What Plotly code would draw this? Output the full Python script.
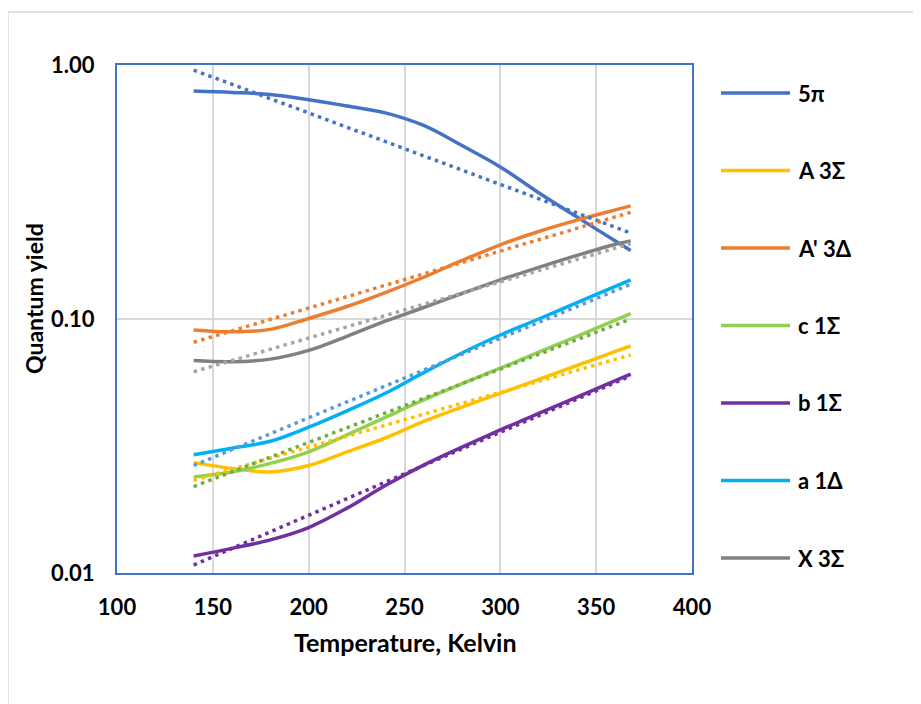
import plotly.graph_objects as go

# ---------------- data ----------------
temps = [140, 160, 180, 200, 220, 240, 260, 280, 300, 320, 340, 360, 368]

y_5pi   = [0.79, 0.78, 0.765, 0.73, 0.69, 0.648, 0.578, 0.482, 0.397, 0.314, 0.252, 0.203, 0.186]
y_A3S   = [0.0272, 0.0258, 0.025, 0.0265, 0.030, 0.034, 0.0395, 0.045, 0.051, 0.0578, 0.0656, 0.0745, 0.0783]
y_Ap3D  = [0.0905, 0.089, 0.091, 0.1005, 0.112, 0.127, 0.146, 0.170, 0.196, 0.221, 0.245, 0.269, 0.279]
y_c1S   = [0.0239, 0.025, 0.027, 0.030, 0.035, 0.041, 0.048, 0.0557, 0.064, 0.074, 0.0855, 0.099, 0.105]
y_b1S   = [0.01167, 0.0125, 0.0135, 0.0151, 0.018, 0.0221, 0.0266, 0.0313, 0.0366, 0.0425, 0.0493, 0.0572, 0.0607]
y_a1D   = [0.0292, 0.031, 0.033, 0.0375, 0.0435, 0.051, 0.0615, 0.0735, 0.0865, 0.100, 0.116, 0.1345, 0.1425]
y_X3S   = [0.0686, 0.0679, 0.0695, 0.0752, 0.0855, 0.098, 0.111, 0.126, 0.1425, 0.1596, 0.178, 0.197, 0.203]

# exponential trend lines (straight on log axis): value at first and last temperature
trend_temps = [140, 368]
t_5pi  = [0.955, 0.218]
t_A3S  = [0.0232, 0.0722]
t_Ap3D = [0.081, 0.263]
t_c1S  = [0.0219, 0.100]
t_b1S  = [0.01075, 0.0597]
t_a1D  = [0.0265, 0.137]
t_X3S  = [0.062, 0.198]

names = ["5π", "A 3Σ", "A' 3Δ", "c 1Σ", "b 1Σ", "a 1Δ", "X 3Σ"]
series = [y_5pi, y_A3S, y_Ap3D, y_c1S, y_b1S, y_a1D, y_X3S]
trends = [t_5pi, t_A3S, t_Ap3D, t_c1S, t_b1S, t_a1D, t_X3S]

x_ticks = [100, 150, 200, 250, 300, 350, 400]
y_tickvals = [0.01, 0.1, 1.0]
y_ticktext = ["0.01", "0.10", "1.00"]

# ---------------- styles ----------------
line_colors = ["#4472C4", "#FFC000", "#ED7D31", "#92D050", "#7030A0", "#00B0F0", "#808080"]
trend_colors = ["#4472C4", "#FFC000", "#ED7D31", "#70AD47", "#7030A0", "#5B9BD5", "#A5A5A5"]
FONT = "Lato"

W, H = 921, 704
OFF = 8  # page body margin
L, R, T, B = 117 - OFF, 692 - OFF, 65 - OFF, 573 - OFF

fig = go.Figure()
for name, ys, c in zip(names, series, line_colors):
    fig.add_trace(go.Scatter(x=temps, y=ys, mode="lines", name=name,
                             line=dict(color=c, width=3.5, shape="spline", smoothing=1.0),
                             showlegend=False))
for name, ys, c in zip(names, trends, trend_colors):
    fig.add_trace(go.Scatter(x=trend_temps, y=ys, mode="lines", name=name + " trend",
                             line=dict(color=c, width=3.5, dash="3.5px,4.3px"),
                             showlegend=False))

def px(xp):
    return (xp - OFF - L) / (R - L)

def py(yp):
    return (B - (yp - OFF)) / (B - T)

shapes = []
annotations = []
# outer chart border
shapes.append(dict(type="rect", xref="paper", yref="paper",
                   x0=px(8), x1=px(940), y0=py(725), y1=py(12),
                   line=dict(color="#D9D9D9", width=1.5), layer="below"))
# manual legend
leg_y0 = 93
leg_dy = 77.5
for i, (name, c) in enumerate(zip(names, line_colors)):
    yy = leg_y0 + i * leg_dy
    shapes.append(dict(type="line", xref="paper", yref="paper",
                       x0=px(721), x1=px(790), y0=py(yy), y1=py(yy),
                       line=dict(color=c, width=3.5)))
    annotations.append(dict(xref="paper", yref="paper", x=px(796), y=py(yy),
                            text="<b>" + name + "</b>", showarrow=False,
                            xanchor="left", yanchor="middle",
                            font=dict(family=FONT, size=22, color="#000000")))
# axis titles
annotations.append(dict(xref="paper", yref="paper", x=px(405), y=py(642),
                        text="<b>Temperature, Kelvin</b>", showarrow=False,
                        xanchor="center", yanchor="middle",
                        font=dict(family=FONT, size=25, color="#000000")))
annotations.append(dict(xref="paper", yref="paper", x=px(34), y=py(299),
                        text="<b>Quantum yield</b>", showarrow=False, textangle=-90,
                        xanchor="center", yanchor="middle",
                        font=dict(family=FONT, size=23, color="#000000")))

fig.update_layout(
    width=W, height=H,
    margin=dict(l=L, r=W - R, t=T, b=H - B),
    paper_bgcolor="white", plot_bgcolor="white",
    shapes=shapes, annotations=annotations,
    showlegend=False,
    font=dict(family=FONT, color="#000000"),
)
fig.update_xaxes(range=[100, 400], tickvals=x_ticks, ticktext=[f"<b>{v}</b>" for v in x_ticks],
                 showgrid=True, gridcolor="#D9D9D9", gridwidth=1.5,
                 showline=True, linecolor="#4472C4", linewidth=2, mirror=True,
                 ticks="", ticklabelstandoff=14, zeroline=False,
                 tickfont=dict(family=FONT, size=22, color="#000000"))
fig.update_yaxes(type="log", range=[-2, 0], tickvals=y_tickvals,
                 ticktext=[f"<b>{t}</b>" for t in y_ticktext],
                 showgrid=True, gridcolor="#D9D9D9", gridwidth=1.5,
                 showline=True, linecolor="#4472C4", linewidth=2, mirror=True,
                 ticks="", ticklabelstandoff=16, zeroline=False,
                 tickfont=dict(family=FONT, size=22, color="#000000"))

fig.write_html("out.html")
